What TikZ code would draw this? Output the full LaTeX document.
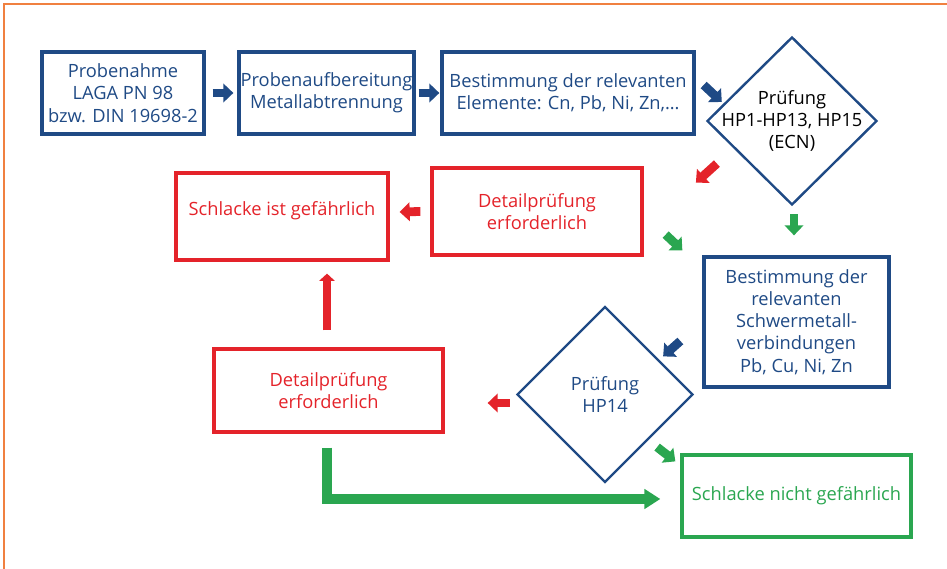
\documentclass[tikz,border=0pt]{standalone}
\usepackage{fontspec}
\setmainfont{Open Sans}
\usepackage{tikz}
\usetikzlibrary{shapes.geometric,arrows.meta,positioning}

\definecolor{ifblue}{HTML}{1F4A85}
\definecolor{ifred}{HTML}{E4232A}
\definecolor{ifgreen}{HTML}{2AA650}
\definecolor{iforange}{HTML}{F08040}

\begin{document}
\begin{tikzpicture}[
    x=0.025cm, y=-0.025cm,
    box/.style={draw, rectangle, line width=2.3pt, inner sep=0pt, align=center,
      font=\fontsize{13}{15.8}\selectfont},
    bluebox/.style={box, draw=ifblue, text=ifblue},
    redbox/.style={box, draw=ifred, text=ifred},
    greenbox/.style={box, draw=ifgreen, text=ifgreen},
    check/.style={draw=ifblue, diamond, aspect=1, line width=1.7pt, inner sep=-9pt,
      align=center, font=\fontsize{13}{15.8}\selectfont},
    arrow/.style={line width=0.22cm, -{Triangle[width=0.46cm,length=0.25cm]}},
    bluearrow/.style={arrow, ifblue},
    redarrow/.style={arrow, ifred},
    greenarrow/.style={arrow, ifgreen}
]
\useasboundingbox (0,0) rectangle (947,569);

% --- frame ---
\draw[iforange, line width=1.1pt] (4,569) -- (4,4) -- (947,4);

% --- first row ---
\node[bluebox, minimum width=4.05cm, minimum height=2.05cm] (probe) at (123,93)
  {Probenahme\\LAGA PN 98\\bzw. DIN 19698-2};
\node[bluebox, minimum width=4.375cm, minimum height=2.05cm] (aufb) at (326.5,93)
  {Probenaufbereitung\\Metallabtrennung};
\node[bluebox, minimum width=6.3cm, minimum height=2.05cm] (elem) at (568,93)
  {Bestimmung der relevanten\\Elemente: Cn, Pb, Ni, Zn,\dots};
\node[check, minimum width=4.25cm, minimum height=4.2cm] (ecn) at (792,121)
  {Prüfung\\HP1-HP13, HP15\\(ECN)};

% --- second row ---
\node[redbox, minimum width=5.25cm, minimum height=2.175cm] (detail1) at (537,211.5)
  {Detailprüfung\\erforderlich};
\node[redbox, minimum width=5.3cm, minimum height=2.175cm] (gef) at (282,216.5)
  {Schlacke ist gefährlich\\[-4pt]};
\node[bluebox, minimum width=4.625cm, minimum height=3.25cm] (schwer) at (796.5,322)
  {Bestimmung der\\relevanten\\Schwermetall-\\verbindungen\\Pb, Cu, Ni, Zn};

% --- third row ---
\node[redbox, minimum width=5.725cm, minimum height=2.075cm] (detail2) at (328.5,390.5)
  {Detailprüfung\\erforderlich};
\node[check, text=ifblue, minimum width=4.4cm, minimum height=4.4cm] (hp14) at (605,394.5)
  {Prüfung\\HP14};
\node[greenbox, minimum width=5.725cm, minimum height=2.05cm] (nicht) at (796.5,496)
  {Schlacke nicht gefährlich};

% --- arrows ---
\draw[bluearrow] ([shift={(7,0)}]probe.east) -- ([shift={(-4,0)}]aufb.west);
\draw[bluearrow] ([shift={(3,0)}]aufb.east) -- ([shift={(-1,0)}]elem.west);
\draw[bluearrow] ([shift={(8,-8)}]elem.east) -- ([shift={(16,-19)}]ecn.west);
\draw[redarrow] ([shift={(-32,0)}]ecn.south west) -- ([shift={(-53,19)}]ecn.south west);
\draw[greenarrow] ([shift={(2,8)}]ecn.south) -- ([shift={(-2.5,-20)}]schwer.north);
\draw[redarrow] ([shift={(-10,0)}]detail1.west) -- ([shift={(10,-4.5)}]gef.east);
\draw[greenarrow] ([shift={(22,-22)}]detail1.south east) -- ([shift={(-20,-5)}]schwer.north west);
\draw[bluearrow] ([shift={(-22,19)}]schwer.west) -- ([shift={(13.5,6.5)}]hp14.north east);
\draw[redarrow] ([shift={(-6,8.5)}]hp14.west) -- ([shift={(43,12.5)}]detail2.east);
\draw[greenarrow] ([shift={(7.5,8)}]hp14.south east) -- ([shift={(-5,8)}]nicht.north west);
\draw[redarrow, -{Triangle[width=0.38cm,length=0.18cm]}] ([shift={(-1.5,-17)}]detail2.north) -- ([shift={(45,12)}]gef.south);
\draw[greenarrow, line width=0.23cm, -{Triangle[width=0.48cm,length=0.4cm]}]
  ([shift={(-1.5,14)}]detail2.south) |- ([shift={(-20,3)}]nicht.west);

\end{tikzpicture}
\end{document}
